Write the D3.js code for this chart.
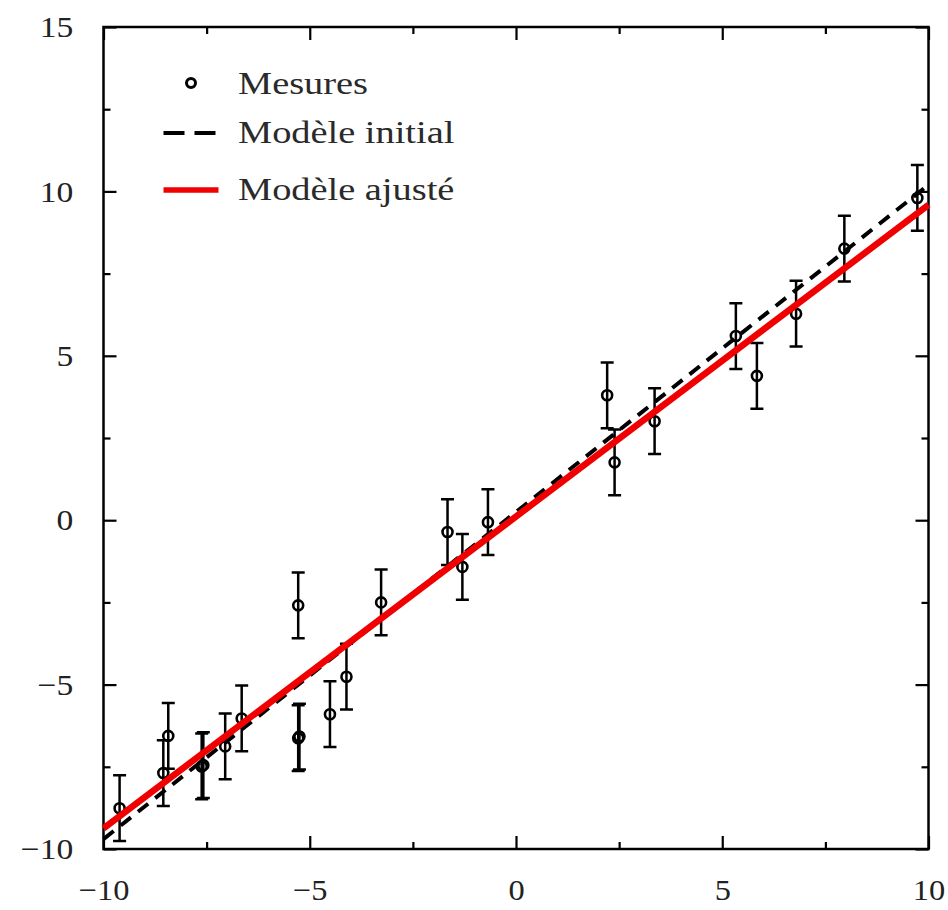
<!DOCTYPE html>
<meta charset="utf-8">
<style>
    body {
        margin: 0;
        background: #fff;
    }

    .axis path {
        display: none;
    }

    .axis line {
        stroke: #000;
        stroke-width: 2.2;
    }

    .axis text {
        font-family: "Liberation Serif", serif;
        font-size: 30px;
        fill: #222;
    }

    .legend text {
        font-family: "Liberation Serif", serif;
        font-size: 32px;
        fill: #2a2a2a;
    }
</style>
<body>
    <script src="https://cdn.jsdelivr.net/npm/d3@7"></script>
    <script>

        // measurements (x, y, error bar half-height)
        var xMeas = [-9.61, -8.55, -8.43, -7.62, -7.58, -7.05, -6.65, -5.28, -5.28, -5.25, -4.51, -4.11, -3.27,
            -1.66, -1.30, -0.68, 2.21, 2.39, 3.36, 5.33, 5.84, 6.79, 7.96, 9.73];
        var yMeas = [-8.76, -7.69, -6.56, -7.49, -7.45, -6.88, -6.03, -2.59, -6.63, -6.58, -5.90, -4.76, -2.50,
            -0.36, -1.42, -0.06, 3.80, 1.76, 3.01, 5.60, 4.39, 6.28, 8.26, 9.80];
        var yErr = [1, 1, 1, 1, 1, 1, 1, 1, 1, 1, 1, 1, 1, 1, 1, 1, 1, 1, 1, 1, 1, 1, 1, 1];

        // model lines, given by their end points
        var modelX = [-10, 10];
        var initialY = [-9.7, 10.2];
        var fittedY = [-9.37, 9.59];

        var xMajor = [-10, -5, 0, 5, 10],
            xMinor = [-7.5, -2.5, 2.5, 7.5],
            yMajor = [-10, -5, 0, 5, 10, 15],
            yMinor = [-7.5, -2.5, 2.5, 7.5, 12.5];

        var legendLabels = ["Mesures", "Modèle initial", "Modèle ajusté"];

        var margin = { top: 27, right: 19.5, bottom: 61, left: 103.5 },
            width = 948 - margin.left - margin.right,
            height = 910 - margin.top - margin.bottom;

        var x = d3.scaleLinear().domain([-10, 10]).range([0, width]);
        var y = d3.scaleLinear().domain([-10, 15]).range([height, 0]);

        var svg = d3.select("body").append("svg")
            .attr("width", 948)
            .attr("height", 910)
            .append("g")
            .attr("transform", "translate(" + margin.left + "," + margin.top + ")");

        // ticks, all pointing inwards
        function ticks(axis, vals, size, pos) {
            var g = svg.append("g").attr("class", "axis");
            if (pos) g.attr("transform", pos);
            g.call(axis.tickValues(vals).tickSizeInner(-size).tickSizeOuter(0).tickFormat(""));
            return g;
        }
        ticks(d3.axisBottom(x), xMinor, 7, "translate(0," + height + ")");
        ticks(d3.axisTop(x), xMinor, 7);
        ticks(d3.axisTop(x), xMajor, 13);
        ticks(d3.axisLeft(y), yMinor, 7);
        ticks(d3.axisRight(y), yMinor, 7, "translate(" + width + ",0)");
        ticks(d3.axisRight(y), yMajor, 13, "translate(" + width + ",0)");

        // labelled axes
        svg.append("g")
            .attr("class", "axis")
            .attr("transform", "translate(0," + height + ")")
            .call(d3.axisBottom(x).tickValues(xMajor).tickSizeInner(-13).tickSizeOuter(0).tickPadding(30))
            .selectAll("text").attr("transform", "scale(1.08,1)");

        svg.append("g")
            .attr("class", "axis")
            .call(d3.axisLeft(y).tickValues(yMajor).tickSizeInner(-13).tickSizeOuter(0).tickPadding(27))
            .selectAll("text").attr("transform", "scale(1.12,1)");

        // frame
        svg.append("rect")
            .attr("width", width)
            .attr("height", height)
            .attr("fill", "none")
            .attr("stroke", "#000")
            .attr("stroke-width", 2.5);

        var pts = xMeas.map(function (d, i) { return { x: d, y: yMeas[i], e: yErr[i] }; });

        // error bars
        var bars = svg.append("g").attr("stroke", "#000").attr("stroke-width", 2.5);
        bars.selectAll(".bar")
            .data(pts)
            .enter().append("path")
            .attr("fill", "none")
            .attr("d", function (d) {
                var cx = x(d.x), y0 = y(d.y - d.e), y1 = y(d.y + d.e);
                return "M" + cx + "," + y0 + "V" + y1 +
                    "M" + (cx - 6.5) + "," + y0 + "H" + (cx + 6.5) +
                    "M" + (cx - 6.5) + "," + y1 + "H" + (cx + 6.5);
            });

        svg.append("g").selectAll("circle")
            .data(pts)
            .enter().append("circle")
            .attr("cx", function (d) { return x(d.x); })
            .attr("cy", function (d) { return y(d.y); })
            .attr("r", 5)
            .attr("fill", "none")
            .attr("stroke", "#000")
            .attr("stroke-width", 2.6);

        var line = d3.line()
            .x(function (d) { return x(d[0]); })
            .y(function (d) { return y(d[1]); });

        svg.append("path")
            .datum(modelX.map(function (d, i) { return [d, initialY[i]]; }))
            .attr("d", line)
            .attr("fill", "none")
            .attr("stroke", "#000")
            .attr("stroke-width", 4)
            .attr("stroke-dasharray", "13,9");

        svg.append("path")
            .datum(modelX.map(function (d, i) { return [d, fittedY[i]]; }))
            .attr("d", line)
            .attr("fill", "none")
            .attr("stroke", "#f00000")
            .attr("stroke-width", 6.5);

        // legend
        var leg = svg.append("g").attr("class", "legend");
        var rowY = [57, 106, 163];
        leg.append("circle")
            .attr("cx", 87.5).attr("cy", rowY[0] - 1)
            .attr("r", 4.5)
            .attr("fill", "none").attr("stroke", "#000").attr("stroke-width", 3);
        leg.append("line")
            .attr("x1", 60).attr("x2", 114)
            .attr("y1", rowY[1]).attr("y2", rowY[1])
            .attr("stroke", "#000").attr("stroke-width", 4)
            .attr("stroke-dasharray", "21,10");
        leg.append("line")
            .attr("x1", 60).attr("x2", 115)
            .attr("y1", rowY[2]).attr("y2", rowY[2])
            .attr("stroke", "#f00000").attr("stroke-width", 5.5);
        leg.selectAll("text")
            .data(legendLabels)
            .enter().append("text")
            .attr("transform", function (d, i) {
                return "translate(134.5," + (rowY[i] + 10) + ") scale(1.2,1)";
            })
            .text(function (d) { return d; });

    </script>
</body>
